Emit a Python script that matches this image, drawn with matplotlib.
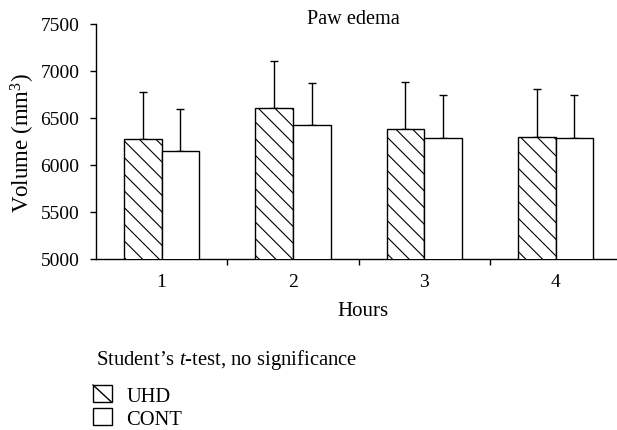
import matplotlib
matplotlib.use("Agg")
import matplotlib.pyplot as plt
import numpy as np
from matplotlib.patches import Patch, Rectangle
from matplotlib.lines import Line2D
from matplotlib.legend_handler import HandlerPatch

hours = ["1", "2", "3", "4"]
uhd_mean = [6274, 6600, 6380, 6298]
uhd_sd = [499, 499, 497, 503]
cont_mean = [6146, 6426, 6288, 6288]
cont_sd = [450, 446, 449, 456]
yticks = [5000, 5500, 6000, 6500, 7000, 7500]

plt.rcParams['font.family'] = ['Liberation Serif', 'DejaVu Serif']
plt.rcParams['mathtext.fontset'] = 'custom'
plt.rcParams['mathtext.rm'] = 'Liberation Serif'
plt.rcParams['mathtext.it'] = 'Liberation Serif:italic'
plt.rcParams['hatch.linewidth'] = 0.8
FS = 14

W, H = 617, 431
fig = plt.figure(figsize=(W / 100, H / 100), dpi=100)

def fx(px):
    return px / W

def fy(py):
    return 1 - py / H

ax_left, ax_right, ax_top, ax_bot = 96, 617, 24.5, 260
ax = fig.add_axes([fx(ax_left), fy(ax_bot), fx(ax_right - ax_left), (ax_bot - ax_top) / H])

x = np.arange(1, len(hours) + 1)
bw = 0.286
ax.bar(x - bw / 2, uhd_mean, bw, color='white', edgecolor='black',
       linewidth=1.0, hatch='\\\\', zorder=3)
ax.bar(x + bw / 2, cont_mean, bw, color='white', edgecolor='black',
       linewidth=1.0, zorder=3)
ax.errorbar(x - bw / 2, uhd_mean, yerr=[np.zeros(len(x)), uhd_sd], fmt='none',
            ecolor='black', elinewidth=1.0, capsize=3, capthick=1.0, zorder=2)
ax.errorbar(x + bw / 2, cont_mean, yerr=[np.zeros(len(x)), cont_sd], fmt='none',
            ecolor='black', elinewidth=1.0, capsize=3, capthick=1.0, zorder=2)

cat_w = 131.3
ax.set_xlim(0.5, 0.5 + (ax_right - ax_left) / cat_w)
ax.set_ylim(5000, 7500)
ax.set_yticks(yticks)
ax.set_xticks(x)
ax.set_xticklabels(hours)
ax.set_xticks(np.arange(1.5, len(hours), 1.0), minor=True)
ax.tick_params(axis='x', which='major', length=0, pad=10, labelsize=FS)
ax.tick_params(axis='x', which='minor', length=4, width=1.0, direction='out')
ax.tick_params(axis='y', length=4, width=1.0, direction='out', pad=8, labelsize=FS)
for s in ['top', 'right']:
    ax.spines[s].set_visible(False)
for s in ['left', 'bottom']:
    ax.spines[s].set_linewidth(1.0)

fig.text(fx(353.5), fy(19), "Paw edema", ha='center', va='center', fontsize=14.6)
fig.text(fx(23), fy(143.5), "Volume (mm$^3$)", ha='center', va='center',
         rotation=90, fontsize=16.5)
fig.text(fx(362.5), fy(312), "Hours", ha='center', va='center', fontsize=15)
fig.text(fx(96), fy(360), "Student\u2019s $\\mathit{t}$-test, no significance",
         ha='left', va='center', fontsize=14.9)


class DiagHandler(HandlerPatch):
    def create_artists(self, legend, orig_handle, xdescent, ydescent,
                       width, height, fontsize, trans):
        rect = Rectangle((-xdescent, -ydescent), width, height,
                         facecolor='white', edgecolor='black', linewidth=1.0,
                         transform=trans)
        line = Line2D([-xdescent, -xdescent + width],
                      [-ydescent + height, -ydescent],
                      color='black', linewidth=1.0, transform=trans)
        return [rect, line]


uhd_handle = Patch(facecolor='white', edgecolor='black', linewidth=1.0)
cont_handle = Patch(facecolor='white', edgecolor='black', linewidth=1.0)
fig.legend([uhd_handle, cont_handle], ["UHD", "CONT"], loc='upper left',
           bbox_to_anchor=(fx(93), fy(386)), frameon=False, fontsize=14.8,
           handlelength=0.9, handleheight=0.9, handletextpad=0.72,
           labelspacing=0.12, borderpad=0, borderaxespad=0,
           handler_map={uhd_handle: DiagHandler()})

fig.savefig("out.png", dpi=100)
